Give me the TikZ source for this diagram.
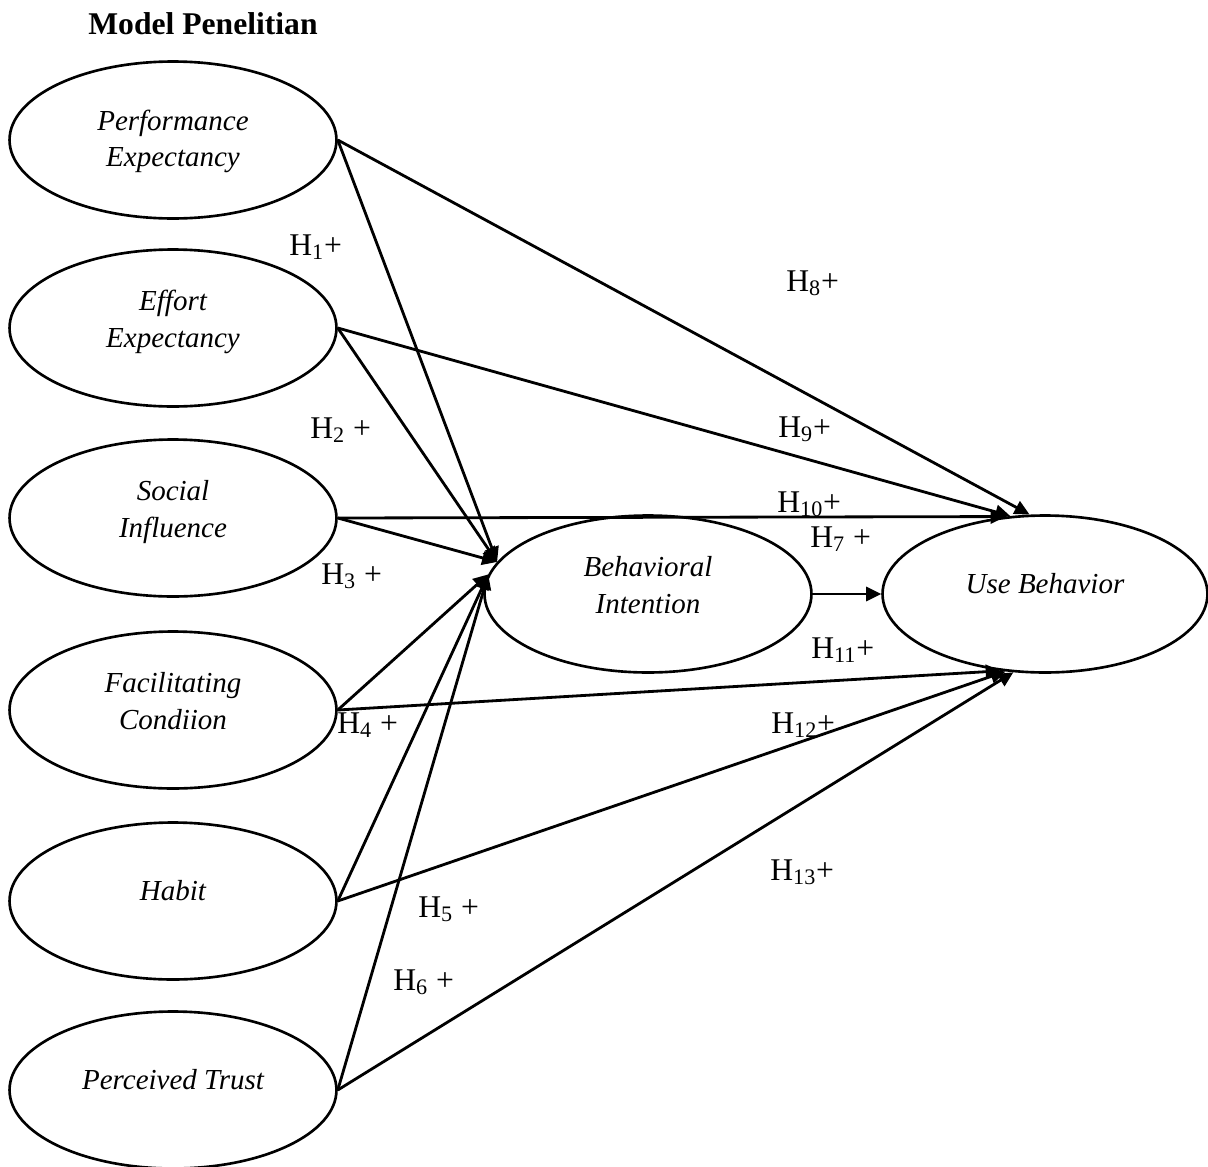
\documentclass[tikz,border=0pt]{standalone}
\usepackage{fontspec}
\setmainfont{Liberation Serif}
\usetikzlibrary{shapes.geometric, arrows.meta}

\begin{document}
\begin{tikzpicture}[x=0.02cm, y=-0.02cm,
    construct/.style={draw, ellipse, line width=1.5pt, minimum width=6.54cm,
      minimum height=3.14cm, align=center, text height=0.86cm, text depth=0.1cm,
      font=\fontsize{16.5}{20.5}\selectfont\itshape},
    oneline/.style={text height=0.4cm, text depth=0.44cm},
    hyp/.style={anchor=base west, inner sep=0pt, font=\fontsize{18}{20}\selectfont},
    link/.style={-{Triangle[length=0.3cm, width=0.28cm]}, line width=1.6pt}]
    \useasboundingbox (0, 0) rectangle (1208, 1167);
    \node[anchor=base west, inner sep=0pt, font=\fontsize{18}{20}\selectfont\bfseries]
      (title) at (88, 34) {Model Penelitian};
    \node[construct, text height=1.18cm] (PE) at (173, 140) {Performance\\Expectancy};
    \node[construct] (EE) at (173, 328) {Effort\\Expectancy};
    \node[construct] (SI) at (173, 518) {Social\\Influence};
    \node[construct] (FC) at (173, 710) {Facilitating\\Condiion};
    \node[construct, oneline] (HB) at (173, 901) {Habit};
    \node[construct, oneline] (PT) at (173, 1090) {Perceived Trust};
    \node[construct] (BI) at (648, 594) {Behavioral\\Intention};
    \node[construct, oneline, minimum width=6.5cm] (UB) at (1045, 594) {Use Behavior};
    \draw[link] (PE.east) -- (BI.168);
    \draw[link] (PE.east) -- (UB.101);
    \draw[link] (EE.east) -- (BI.168);
    \draw[link] (EE.east) -- (UB.114);
    \draw[link] (SI.east) -- (UB.117);
    \draw[link] (SI.east) -- (BI.168);
    \draw[link] (FC.east) -- (BI.173);
    \draw[link] (FC.east) -- (UB.240);
    \draw[link] (HB.east) -- (BI.173);
    \draw[link] (HB.east) -- (UB.243);
    \draw[link] (PT.east) -- (BI.173);
    \draw[link] (PT.east) -- (UB.248);
    \draw[link] (BI.east) -- (UB.west);
    \node[hyp] (h1) at (289, 255) {H\textsubscript{1}+};
    \node[hyp] (h2) at (310, 438) {H\textsubscript{2} +};
    \node[hyp] (h3) at (321, 584) {H\textsubscript{3} +};
    \node[hyp] (h4) at (337, 733) {H\textsubscript{4} +};
    \node[hyp] (h5) at (418, 917) {H\textsubscript{5} +};
    \node[hyp] (h6) at (393, 990) {H\textsubscript{6} +};
    \node[hyp] (h7) at (810, 547) {H\textsubscript{7} +};
    \node[hyp] (h8) at (786, 291) {H\textsubscript{8}+};
    \node[hyp] (h9) at (778, 437) {H\textsubscript{9}+};
    \node[hyp] (h10) at (777, 512) {H\textsubscript{10}+};
    \node[hyp] (h11) at (811, 658) {H\textsubscript{11}+};
    \node[hyp] (h12) at (771, 733) {H\textsubscript{12}+};
    \node[hyp] (h13) at (770, 880) {H\textsubscript{13}+};
\end{tikzpicture}
\end{document}
